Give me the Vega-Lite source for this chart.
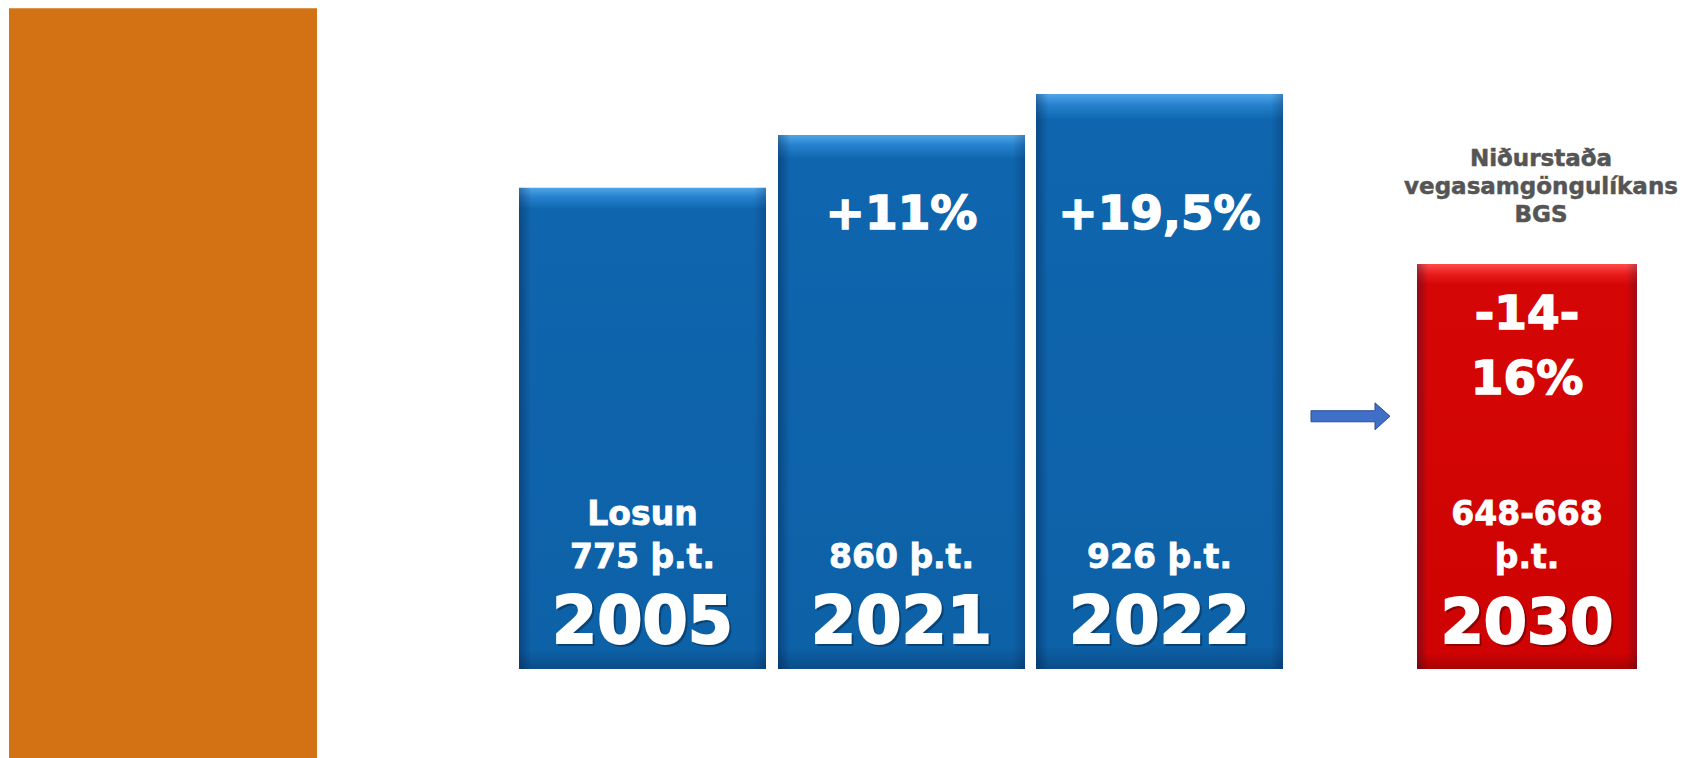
{
  "$schema": "https://vega.github.io/schema/vega-lite/v6.json",
  "width": 1691,
  "height": 758,
  "autosize": {"type": "fit", "contains": "padding"},
  "padding": 0,
  "background": "white",
  "config": {"view": {"stroke": null}, "text": {"font": "DejaVu Sans", "fontWeight": "bold", "lineBreak": "\n"}},
  "datasets": {
    "bars": [
      {"year": "2005", "value": 775, "kind": "blue", "x0": 519, "x1": 766, "xm": 642.5, "top": "", "mid": "Losun\n775 þ.t.", "note": ""},
      {"year": "2021", "value": 860, "kind": "blue", "x0": 778, "x1": 1025, "xm": 901.5, "top": "+11%", "mid": "\n860 þ.t.", "note": ""},
      {"year": "2022", "value": 926, "kind": "blue", "x0": 1036, "x1": 1283, "xm": 1159.5, "top": "+19,5%", "mid": "\n926 þ.t.", "note": ""},
      {"year": "2030", "value": 652, "kind": "red", "x0": 1417, "x1": 1637, "xm": 1527, "top": "-14-\n16%", "mid": "648-668\nþ.t.", "note": "Niðurstaða\nvegasamgöngulíkans\nBGS"}
    ],
    "panel": [{"name": "panel", "x0": 9, "x1": 317, "top": 1064, "bottom": -143.3}],
    "arrow": [{"from": "2022", "to": "2030", "x": 1350.5, "y": 407}]
  },
  "encoding": {
    "x": {"type": "quantitative", "scale": {"domain": [0, 1691], "nice": false, "zero": false}, "axis": null},
    "y": {"type": "quantitative", "scale": {"domain": [-143.3, 1077.3], "nice": false, "zero": false}, "axis": null}
  },
  "layer": [
    {
      "data": {"name": "panel"},
      "mark": {"type": "rect", "color": "#d37215"},
      "encoding": {
        "x": {"field": "x0", "type": "quantitative"},
        "x2": {"field": "x1"},
        "y": {"field": "top", "type": "quantitative"},
        "y2": {"field": "bottom"}
      }
    },
    {
      "data": {"name": "bars"},
      "transform": [{"filter": "datum.kind === 'blue'"}],
      "mark": {"type": "rect", "color": {"gradient": "linear", "x1": 0, "y1": 0, "x2": 0, "y2": 1, "stops": [
        {"offset": 0, "color": "#4fa6e8"},
        {"offset": 0.02, "color": "#2580cc"},
        {"offset": 0.045, "color": "#0f66ae"},
        {"offset": 0.96, "color": "#0d61a7"},
        {"offset": 1, "color": "#0a4d8a"}
      ]}},
      "encoding": {
        "x": {"field": "x0", "type": "quantitative"},
        "x2": {"field": "x1"},
        "y": {"field": "value", "type": "quantitative"},
        "y2": {"datum": 0}
      }
    },
    {
      "data": {"name": "bars"},
      "transform": [{"filter": "datum.kind === 'red'"}],
      "mark": {"type": "rect", "color": {"gradient": "linear", "x1": 0, "y1": 0, "x2": 0, "y2": 1, "stops": [
        {"offset": 0, "color": "#ff4a4a"},
        {"offset": 0.025, "color": "#e81c1c"},
        {"offset": 0.05, "color": "#d50606"},
        {"offset": 0.96, "color": "#cf0303"},
        {"offset": 1, "color": "#a80000"}
      ]}},
      "encoding": {
        "x": {"field": "x0", "type": "quantitative"},
        "x2": {"field": "x1"},
        "y": {"field": "value", "type": "quantitative"},
        "y2": {"datum": 0}
      }
    },
    {
      "data": {"name": "bars"},
      "mark": {"type": "rect", "color": {"gradient": "linear", "x1": 0, "y1": 0, "x2": 1, "y2": 0, "stops": [
        {"offset": 0, "color": "rgba(0,20,60,0.35)"},
        {"offset": 0.05, "color": "rgba(0,20,60,0)"},
        {"offset": 0.95, "color": "rgba(0,20,60,0)"},
        {"offset": 1, "color": "rgba(0,20,60,0.25)"}
      ]}},
      "encoding": {
        "x": {"field": "x0", "type": "quantitative"},
        "x2": {"field": "x1"},
        "y": {"field": "value", "type": "quantitative"},
        "y2": {"datum": 0}
      }
    },
    {
      "data": {"name": "bars"},
      "mark": {"type": "text", "color": "#000000", "opacity": 0.3, "align": "center", "baseline": "alphabetic", "dx": 2, "dy": -24, "stroke": "#000000", "strokeWidth": 2},
      "encoding": {
        "x": {"field": "xm", "type": "quantitative"},
        "y": {"datum": 0},
        "text": {"field": "year"},
        "size": {"condition": {"test": "datum.kind === 'red'", "value": 62}, "value": 65}
      }
    },
    {
      "data": {"name": "bars"},
      "mark": {"type": "text", "color": "white", "align": "center", "baseline": "alphabetic", "dy": -26, "stroke": "white", "strokeWidth": 2},
      "encoding": {
        "x": {"field": "xm", "type": "quantitative"},
        "y": {"datum": 0},
        "text": {"field": "year"},
        "size": {"condition": {"test": "datum.kind === 'red'", "value": 62}, "value": 65}
      }
    },
    {
      "data": {"name": "bars"},
      "mark": {"type": "text", "color": "white", "align": "center", "baseline": "alphabetic", "dy": -144, "fontSize": 33, "lineHeight": 43, "stroke": "white", "strokeWidth": 0.8},
      "encoding": {
        "x": {"field": "xm", "type": "quantitative"},
        "y": {"datum": 0},
        "text": {"field": "mid"}
      }
    },
    {
      "data": {"name": "bars"},
      "transform": [{"filter": "datum.kind === 'blue'"}],
      "mark": {"type": "text", "color": "white", "align": "center", "baseline": "alphabetic", "dy": -440, "fontSize": 47, "stroke": "white", "strokeWidth": 1.5},
      "encoding": {
        "x": {"field": "xm", "type": "quantitative"},
        "y": {"datum": 0},
        "text": {"field": "top"}
      }
    },
    {
      "data": {"name": "bars"},
      "transform": [{"filter": "datum.kind === 'red'"}],
      "mark": {"type": "text", "color": "white", "align": "center", "baseline": "alphabetic", "dy": -340, "fontSize": 47, "lineHeight": 65, "stroke": "white", "strokeWidth": 1.5},
      "encoding": {
        "x": {"field": "xm", "type": "quantitative"},
        "y": {"datum": 0},
        "text": {"field": "top"}
      }
    },
    {
      "data": {"name": "bars"},
      "transform": [{"filter": "datum.kind === 'red'"}],
      "mark": {"type": "text", "color": "#555555", "align": "center", "baseline": "alphabetic", "dx": 14, "dy": -98, "fontSize": 23, "lineHeight": 28, "stroke": "#555555", "strokeWidth": 0.5},
      "encoding": {
        "x": {"field": "xm", "type": "quantitative"},
        "y": {"field": "value", "type": "quantitative"},
        "text": {"field": "note"}
      }
    },
    {
      "data": {"name": "arrow"},
      "mark": {"type": "point", "filled": true, "opacity": 1, "color": "#3f6fc6", "stroke": "#2b4f95", "strokeWidth": 1, "size": 6241,
        "shape": "M -1 -0.14 L 0.62 -0.14 L 0.62 -0.34 L 1 0 L 0.62 0.34 L 0.62 0.14 L -1 0.14 Z"},
      "encoding": {
        "x": {"field": "x", "type": "quantitative"},
        "y": {"field": "y", "type": "quantitative"}
      }
    }
  ]
}
